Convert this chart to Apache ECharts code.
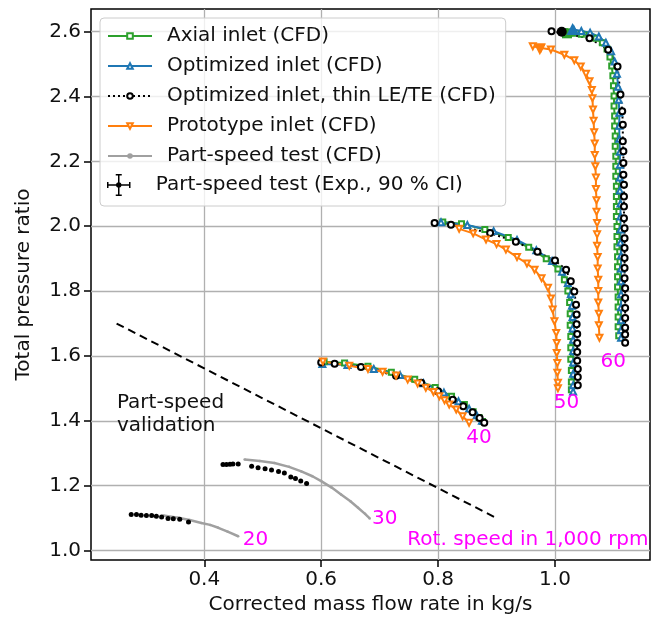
<!DOCTYPE html>
<html>
<head>
<meta charset="utf-8">
<script src="https://cdn.jsdelivr.net/npm/echarts@6/dist/echarts.min.js"></script>
<style>html,body{margin:0;padding:0;background:#fff}#c{width:657px;height:621px}</style>
</head>
<body>
<div id="c"></div>
<script>
// ---------- data ----------
const xTicks = [0.4, 0.6, 0.8, 1.0];
const yTicks = [1.0, 1.2, 1.4, 1.6, 1.8, 2.0, 2.2, 2.4, 2.6];

const axial60 = [[1.016,2.600],[1.030,2.595],[1.045,2.592],[1.058,2.589],[1.070,2.580],[1.081,2.566],[1.089,2.547],[1.094,2.522],[1.097,2.494],[1.099,2.464],[1.100,2.433],[1.101,2.402],[1.101,2.371],[1.102,2.340],[1.102,2.309],[1.103,2.278],[1.103,2.247],[1.104,2.216],[1.104,2.185],[1.104,2.154],[1.105,2.123],[1.105,2.092],[1.105,2.061],[1.105,2.030],[1.106,1.999],[1.106,1.968],[1.106,1.937],[1.107,1.906],[1.107,1.875],[1.107,1.844],[1.107,1.813],[1.108,1.782],[1.108,1.751],[1.108,1.720],[1.108,1.690],[1.109,1.662]];
const axial50 = [[0.808,2.013],[0.840,2.008],[0.880,1.990],[0.920,1.965],[0.955,1.935],[0.985,1.900],[1.005,1.868],[1.016,1.835],[1.022,1.800],[1.025,1.765],[1.026,1.730],[1.026,1.695],[1.027,1.660],[1.027,1.625],[1.027,1.590],[1.028,1.555],[1.028,1.520],[1.028,1.496]];
const axial40 = [[0.605,1.582],[0.640,1.578],[0.680,1.568],[0.720,1.550],[0.760,1.528],[0.795,1.503],[0.823,1.476],[0.845,1.450],[0.860,1.428],[0.870,1.410],[0.876,1.398]];

const opt60 = [[1.032,2.607],[1.045,2.602],[1.060,2.597],[1.075,2.585],[1.087,2.566],[1.096,2.540],[1.102,2.508],[1.106,2.470],[1.108,2.430],[1.109,2.390],[1.110,2.350],[1.110,2.310],[1.110,2.270],[1.111,2.230],[1.111,2.190],[1.111,2.150],[1.111,2.110],[1.112,2.070],[1.112,2.030],[1.112,1.990],[1.112,1.950],[1.113,1.910],[1.113,1.870],[1.113,1.830],[1.113,1.790],[1.113,1.750],[1.113,1.710],[1.113,1.680],[1.113,1.656]];
const opt50 = [[0.805,2.012],[0.850,2.004],[0.895,1.985],[0.935,1.958],[0.968,1.926],[0.995,1.893],[1.012,1.860],[1.022,1.825],[1.027,1.790],[1.029,1.755],[1.030,1.720],[1.030,1.685],[1.031,1.650],[1.031,1.615],[1.031,1.580],[1.031,1.545],[1.031,1.510],[1.031,1.490]];
const opt40 = [[0.602,1.575],[0.645,1.572],[0.690,1.560],[0.735,1.541],[0.775,1.516],[0.810,1.487],[0.835,1.460],[0.853,1.437],[0.866,1.417],[0.875,1.400]];

const thin60 = [[0.994,2.601],[1.059,2.580],[1.091,2.544],[1.107,2.493],[1.112,2.406],[1.115,2.355],[1.116,2.313],[1.116,2.262],[1.117,2.231],[1.117,2.195],[1.117,2.159],[1.118,2.128],[1.118,2.092],[1.118,2.061],[1.118,2.025],[1.119,1.994],[1.119,1.963],[1.119,1.933],[1.119,1.902],[1.119,1.871],[1.119,1.840],[1.120,1.809],[1.120,1.779],[1.120,1.748],[1.120,1.717],[1.120,1.687],[1.120,1.666],[1.120,1.641]];
const thin50 = [[0.794,2.010],[0.822,2.005],[0.889,1.979],[0.933,1.952],[0.970,1.921],[1.000,1.894],[1.019,1.866],[1.027,1.830],[1.033,1.799],[1.036,1.758],[1.037,1.728],[1.037,1.698],[1.038,1.668],[1.038,1.640],[1.038,1.612],[1.038,1.585],[1.039,1.560],[1.039,1.535],[1.039,1.510]];
const thin40 = [[0.600,1.580],[0.623,1.576],[0.668,1.566],[0.728,1.539],[0.771,1.517],[0.800,1.491],[0.825,1.465],[0.843,1.445],[0.859,1.426],[0.871,1.409],[0.879,1.394]];

const proto60 = [[0.962,2.555],[0.976,2.550],[0.993,2.545],[1.016,2.529],[1.033,2.512],[1.044,2.493],[1.053,2.470],[1.059,2.447],[1.063,2.420],[1.064,2.395],[1.065,2.360],[1.066,2.325],[1.067,2.290],[1.068,2.255],[1.068,2.220],[1.069,2.185],[1.070,2.150],[1.070,2.115],[1.071,2.080],[1.071,2.045],[1.072,2.010],[1.072,1.975],[1.072,1.940],[1.073,1.905],[1.073,1.870],[1.074,1.835],[1.074,1.800],[1.074,1.765],[1.075,1.730],[1.075,1.695],[1.076,1.656]];
const proto50 = [[0.836,1.992],[0.860,1.978],[0.882,1.959],[0.900,1.945],[0.916,1.928],[0.935,1.905],[0.952,1.885],[0.965,1.866],[0.977,1.840],[0.988,1.810],[0.993,1.777],[0.996,1.743],[0.999,1.707],[1.002,1.671],[1.003,1.640],[1.003,1.609],[1.004,1.578],[1.004,1.548],[1.005,1.517],[1.005,1.500]];
const proto40 = [[0.603,1.583],[0.648,1.570],[0.680,1.560],[0.705,1.551],[0.728,1.540],[0.748,1.527],[0.765,1.515],[0.779,1.502],[0.792,1.489],[0.802,1.476],[0.811,1.463],[0.819,1.450],[0.831,1.435],[0.842,1.414],[0.853,1.394]];

const partCfd30 = [[0.469,1.281],[0.495,1.276],[0.520,1.270],[0.545,1.258],[0.566,1.244],[0.585,1.229],[0.600,1.214],[0.618,1.194],[0.634,1.173],[0.650,1.152],[0.663,1.132],[0.675,1.113],[0.683,1.099]];
const partCfd20 = [[0.330,1.108],[0.355,1.101],[0.375,1.094],[0.395,1.085],[0.410,1.079],[0.424,1.070],[0.440,1.058],[0.458,1.044]];

const partExp30 = [[0.432,1.265],[0.438,1.265],[0.444,1.266],[0.449,1.267],[0.458,1.267],[0.481,1.260],[0.492,1.255],[0.504,1.252],[0.515,1.248],[0.527,1.244],[0.537,1.239],[0.548,1.227],[0.556,1.222],[0.565,1.214],[0.575,1.207]];
const partExp20 = [[0.275,1.111],[0.284,1.111],[0.292,1.109],[0.301,1.108],[0.310,1.108],[0.318,1.106],[0.327,1.103],[0.338,1.099],[0.347,1.098],[0.358,1.096],[0.373,1.088]];

const designAxial = [[1.0205,2.595]];
const designOpt = [[1.030,2.608]];
const designThin = [[1.0115,2.600]];
const designProto = [[0.974,2.546]];

const validationLine = [[0.25,1.70],[0.90,1.10]];

const speedLabels = ['20','30','40','50','60'];
const speedLabelPos = [[0.466,1.032],[0.687,1.097],[0.848,1.347],[0.998,1.455],[1.078,1.581]];
const unitLabel = 'Rot. speed in 1,000 rpm';
const unitLabelPos = [1.160,1.032];
const validationLabel = 'Part-speed\nvalidation';
const validationLabelPos = [0.2506,1.421];

const names = ['Axial inlet (CFD)','Optimized inlet (CFD)','Optimized inlet, thin LE/TE (CFD)','Prototype inlet (CFD)','Part-speed test (CFD)','Part-speed test (Exp., 90 % CI)'];

// ---------- chart ----------
const FONT = 'DejaVu Sans';
const FS = 20;
const chart = echarts.init(document.getElementById('c'), null, {renderer:'canvas'});

function lineSeries(name, data, color, symbol, size, extra) {
  return Object.assign({
    type:'line', name, data, color,
    symbol, symbolSize:size, showSymbol:true,
    lineStyle:{width:2, color},
    itemStyle:{color, borderWidth:1.5},
    z:3, silent:true
  }, extra||{});
}
const series = [];
[axial60,axial50,axial40].forEach(d=>series.push(lineSeries(names[0], d, '#2ca02c','emptyRect',5)));
[opt60,opt50,opt40].forEach(d=>series.push(lineSeries(names[1], d, '#1f77b4','emptyTriangle',6)));
[thin60,thin50,thin40].forEach(d=>series.push(lineSeries(names[2], d, '#000000','emptyCircle',6,{lineStyle:{width:2,color:'#000',type:[2,3]}, itemStyle:{color:'#000',borderWidth:2}})));
[proto60,proto50,proto40].forEach(d=>series.push(lineSeries(names[3], d, '#ff7f0e','emptyTriangle',6,{symbolRotate:180})));
[partCfd30,partCfd20].forEach(d=>series.push(lineSeries(names[4], d, '#a0a0a0','circle',2.5,{lineStyle:{width:2.5,color:'#a0a0a0'}})));
[partExp30,partExp20].forEach(d=>series.push({type:'scatter', name:names[5], data:d, color:'#000', symbol:'circle', symbolSize:5, itemStyle:{color:'#000', opacity:1}, z:4, silent:true}));

series.push({type:'scatter', name:'_d1', data:designAxial, symbol:'rect', symbolSize:10, itemStyle:{color:'#2ca02c', opacity:1}, z:3});
series.push({type:'scatter', name:'_d2', data:designOpt, symbol:'triangle', symbolSize:12, itemStyle:{color:'#1f77b4', opacity:1}, z:3});
series.push({type:'scatter', name:'_d3', data:designThin, symbol:'circle', symbolSize:10, itemStyle:{color:'#000', opacity:1}, z:3});
series.push({type:'scatter', name:'_d4', data:designProto, symbol:'triangle', symbolRotate:180, symbolSize:12, itemStyle:{color:'#ff7f0e', opacity:1}, z:3});

series.push({type:'line', name:'_val', data:validationLine, symbol:'none', lineStyle:{color:'#000', width:2, type:[8,5]}, z:3, silent:true});

const textData = speedLabels.map((t,i)=>({value:speedLabelPos[i], name:t, label:{align:'left', color:'#ff00ff'}}));
textData.push({value:unitLabelPos, name:unitLabel, label:{align:'right', color:'#ff00ff'}});
textData.push({value:validationLabelPos, name:validationLabel, label:{align:'left', color:'#111', lineHeight:23}});
series.push({type:'scatter', name:'_txt', data:textData, symbol:'circle', symbolSize:0, z:5, silent:true,
  itemStyle:{opacity:1},
  label:{show:true, position:'inside', formatter:p=>p.name, fontFamily:FONT, fontSize:FS, verticalAlign:'middle', opacity:1}});

const errIcon = 'path://M11,10.25H33V11.75H11Z M10.25,8H11.75V14H10.25Z M32.25,8H33.75V14H32.25Z M21.25,0H22.75V22H21.25Z M19,0H25V1.5H19Z M19,20.5H25V22H19Z M25,11L24.1,13.1L22,14L19.9,13.1L19,11L19.9,8.9L22,8L24.1,8.9Z';

const option = {
  animation:false,
  backgroundColor:'#fff',
  textStyle:{fontFamily:FONT},
  grid:{left:91, top:9, width:559, height:551, show:true, borderColor:'#000', borderWidth:1.5, backgroundColor:'transparent'},
  xAxis:{type:'value', min:0.2062, max:1.1625,
    name:'Corrected mass flow rate in kg/s', nameLocation:'middle', nameGap:35,
    nameTextStyle:{fontFamily:FONT, fontSize:FS, color:'#111'},
    axisLine:{show:false},
    axisTick:{show:true, inside:false, length:7, customValues:xTicks, lineStyle:{color:'#000', width:1.5}},
    axisLabel:{customValues:xTicks, margin:10, fontFamily:FONT, fontSize:FS, color:'#111', formatter:v=>v.toFixed(1)},
    splitLine:{show:true, lineStyle:{color:'#b0b0b0', width:1.3}}
  },
  yAxis:{type:'value', min:0.9707, max:2.670,
    name:'Total pressure ratio', nameLocation:'middle', nameGap:57,
    nameTextStyle:{fontFamily:FONT, fontSize:FS, color:'#111'},
    axisLine:{show:false},
    axisTick:{show:true, inside:false, length:7, customValues:yTicks, lineStyle:{color:'#000', width:1.5}},
    axisLabel:{customValues:yTicks, margin:10, fontFamily:FONT, fontSize:FS, color:'#111', formatter:v=>v.toFixed(1)},
    splitLine:{show:true, lineStyle:{color:'#b0b0b0', width:1.3}}
  },
  legend:[
    {data:names.slice(0,5), orient:'vertical', left:100, top:18, itemWidth:44, itemHeight:7, itemGap:10,
     padding:[8,10,40,7], backgroundColor:'rgba(255,255,255,0.8)', borderColor:'#cccccc', borderWidth:1, borderRadius:4,
     selectedMode:false, z:10,
     textStyle:{fontFamily:FONT, fontSize:FS, color:'#111', lineHeight:20, padding:[0,0,0,10]}},
    {data:[{name:names[5], icon:errIcon, itemStyle:{color:'#000'}}], orient:'vertical', left:100, top:174, itemWidth:44, itemHeight:22,
     padding:[0,0,0,7], selectedMode:false, z:11,
     textStyle:{fontFamily:FONT, fontSize:FS, color:'#111', lineHeight:20, padding:[0,0,0,10]}}
  ],
  series
};
chart.setOption(option);
</script>
</body>
</html>
